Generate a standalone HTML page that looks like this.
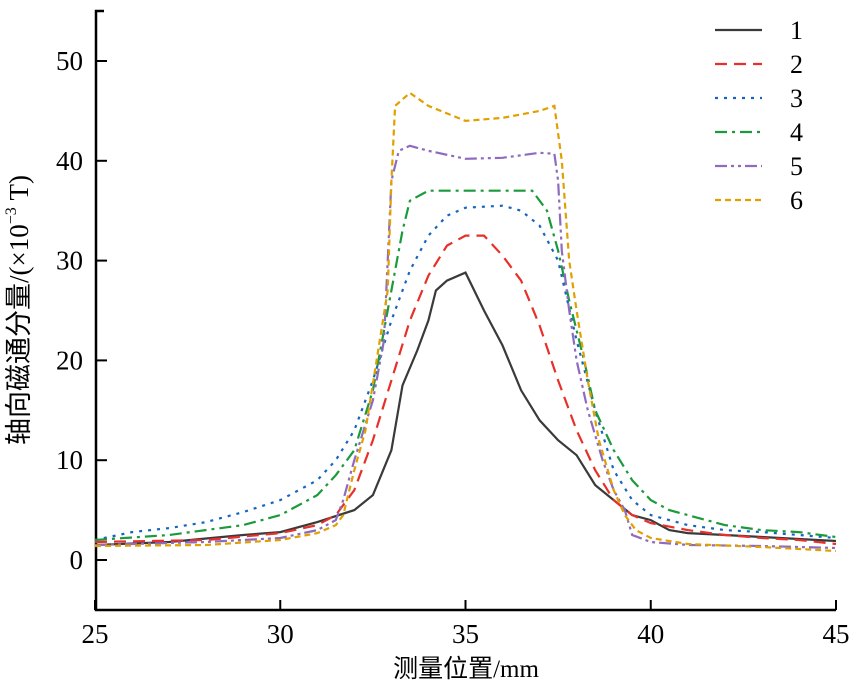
<!DOCTYPE html>
<html><head><meta charset="utf-8">
<style>
html,body{margin:0;padding:0;background:#fff;}
svg{display:block;}
text{font-family:"Liberation Serif","Noto Serif CJK SC",serif;fill:#000;}
</style></head>
<body>
<svg id="chart" width="867" height="691" xmlns="http://www.w3.org/2000/svg">
<g id="axes"></g>
<g id="series"></g>
<g id="legend"></g>
<text x="22" y="310" font-size="27" transform="rotate(-90 22 310)" text-anchor="middle" dominant-baseline="middle" style='font-family:"Liberation Serif","Noto Sans CJK SC",sans-serif'>轴向磁通分量/(×10<tspan font-size="16" dy="-10">−3</tspan><tspan dy="10"> T)</tspan></text>
<text x="466" y="677" font-size="25" text-anchor="middle" style='font-family:"Liberation Serif","Noto Sans CJK SC",sans-serif'>测量位置/mm</text>
</svg>
<script>
const xTicks=[25,30,35,40,45];
const yTicks=[0,10,20,30,40,50];
const seriesNames=["1","2","3","4","5","6"];
const s1x=[25,27,29,30,31,32,32.5,33,33.3,33.7,34,34.2,34.5,35,35.5,36,36.5,37,37.5,38,38.5,39,39.5,40,40.5,41,42,43,44,45];
const s1y=[1.5,1.8,2.5,2.8,3.8,5.0,6.5,11,17.5,21,24,27,28,28.8,25,21.5,17,14,12,10.5,7.5,6,4.5,4,3,2.7,2.5,2.3,2.1,1.9];
const s2x=[25,28,30,31,31.5,32,32.5,33,33.5,34,34.5,35,35.5,36,36.5,37,37.5,38,38.5,39,39.5,40,41,42,43,44,45];
const s2y=[1.8,2,2.7,3.5,4.5,7,12,18,24,28.5,31.5,32.5,32.5,30.5,28,23.5,18,13,9,6,4.5,3.7,3,2.5,2.2,2,1.6];
const s3x=[25,26,27,28,29,30,31,31.5,32,32.5,33,33.5,34,34.5,35,36,36.5,37,37.5,38,38.5,39,39.5,40,41,42,43,44,45];
const s3y=[2,2.8,3.2,3.8,4.8,6,8,10,13,18,24,29,32.5,34.5,35.3,35.5,35,33.5,30,22,15,9,6,4.5,3.5,3,2.8,2.5,2.2];
const s4x=[25,27,29,30,31,31.5,32,32.5,33,33.3,33.5,34,35,36,36.8,37.2,37.5,37.8,38.2,38.5,39,39.5,40,40.5,41,42,43,44,45];
const s4y=[2,2.5,3.5,4.5,6.5,8.5,11,17,27,33,36,37,37,37,37,35,31,26,20,15,11,8,6,5,4.5,3.5,3,2.8,2.3];
const s5x=[25,28,30,31,31.5,31.7,32,32.5,32.8,33,33.2,33.5,34,35,36,37,37.4,37.5,37.6,37.8,38,38.3,38.7,39,39.3,39.5,40,41,43,45];
const s5y=[1.5,1.8,2.2,3,4,6,10,16,22,38,41,41.5,41,40.2,40.3,40.8,40.7,38,31,25,20,15,10,7,5,2.5,1.8,1.5,1.4,1.2];
const s6x=[25,28,30,31,31.5,31.7,32,32.3,32.6,32.9,33,33.1,33.5,34,35,36,37,37.4,37.6,37.8,38,38.3,38.6,39,39.3,39.6,40,41,43,45];
const s6y=[1.4,1.5,2,2.7,3.5,4.5,9,13,20,27,38,45.5,46.8,45.5,44,44.3,45,45.5,40,30,25,18,12,7,4.5,3,2.2,1.6,1.3,0.9];

const colors=["#3a3a3a","#e8302a","#1565c0","#1a9a3a","#8e6bbf","#e0a000"];
const dashes=["","12,7","3,6","12,5,3,5","12,4,3,4,3,4","6,4"];
const X=v=>95+(v-25)*(741/20);
const Y=v=>560-v*9.98;
const NS="http://www.w3.org/2000/svg";
function mk(tag,attrs,parent){const e=document.createElementNS(NS,tag);for(const k in attrs)e.setAttribute(k,attrs[k]);parent.appendChild(e);return e;}
const axes=document.getElementById('axes');
let l=mk('path',{d:"M104 11H96V610H836",fill:"none",stroke:"#000","stroke-width":2.5},axes);


xTicks.forEach(t=>{
 const tk=mk('line',{x1:X(t),x2:X(t),y1:610,y2:600,stroke:"#000","stroke-width":2},axes);
 
 
 const tx=mk('text',{x:X(t),y:643,"font-size":27,"text-anchor":"middle"},axes);tx.textContent=t;
 
 
});
yTicks.forEach(t=>{
 const tk=mk('line',{x1:96,x2:107,y1:Y(t),y2:Y(t),stroke:"#000","stroke-width":2},axes);
 
 
 const tx=mk('text',{x:83,y:Y(t)+9,"font-size":27,"text-anchor":"end"},axes);tx.textContent=t;
 
 
});
const xs=[s1x,s2x,s3x,s4x,s5x,s6x], ys=[s1y,s2y,s3y,s4y,s5y,s6y];
const sg=document.getElementById('series'), lg=document.getElementById('legend');
for(let i=0;i<6;i++){
 const d=xs[i].map((v,j)=>(j?"L":"M")+X(v).toFixed(1)+" "+Y(ys[i][j]).toFixed(1)).join("");
 const p=mk('path',{d:d,fill:"none",stroke:colors[i],"stroke-width":2.2,"stroke-dasharray":dashes[i]},sg);
 
 
 const ly=30+i*34;
 const ll=mk('line',{x1:715,x2:762,y1:ly,y2:ly,stroke:colors[i],"stroke-width":2.2,"stroke-dasharray":dashes[i]},lg);
 
 
 const lt=mk('text',{x:790,y:ly+9,"font-size":26},lg);lt.textContent=seriesNames[i];
 
 
}
</script>
</body></html>
